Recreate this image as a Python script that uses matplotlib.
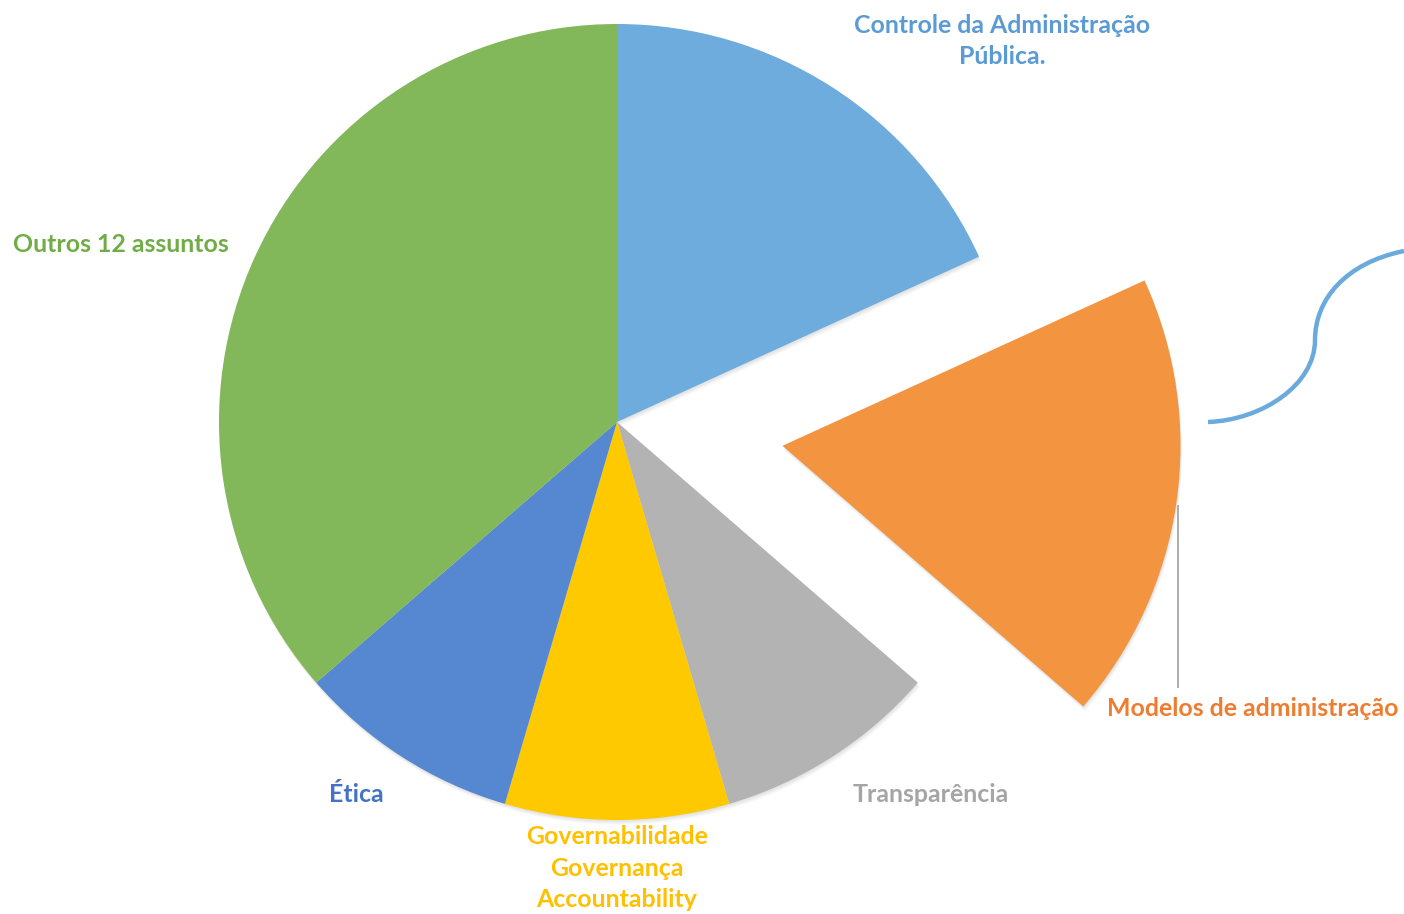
import matplotlib
matplotlib.use("Agg")
import matplotlib.pyplot as plt
from matplotlib.path import Path
from matplotlib.patches import PathPatch, Wedge

# Subjects and number of occurrences
categories = [
    "Controle da Administração\nPública.",
    "Modelos de administração",
    "Transparência",
    "Governabilidade\nGovernança\nAccountability",
    "Ética",
    "Outros 12 assuntos",
]
counts = [2, 2, 1, 1, 1, 4]
explode_frac = [0, 0.42, 0, 0, 0, 0]

slice_colors = ["#6DACDC", "#F29440", "#B3B3B3", "#FFC900", "#5588D0", "#82B85A"]
label_colors = ["#5B9BD5", "#ED7D31", "#A5A5A5", "#FFC000", "#4472C4", "#70AD47"]

W, H = 1404, 914
fig = plt.figure(figsize=(W / 100, H / 100), dpi=100)
ax = fig.add_axes([0, 0, 1, 1])


def py(y):
    # convert a top-down pixel row into the axes' bottom-up coordinate
    return H - y


cx, cy, r = 617, py(422), 398

wedges, _ = ax.pie(
    counts,
    explode=[e * r for e in explode_frac],
    colors=slice_colors,
    startangle=90,
    counterclock=False,
    radius=r,
    center=(cx, cy),
    frame=True,
    wedgeprops=dict(linewidth=0, zorder=3),
)
ax.set_xlim(0, W)
ax.set_ylim(0, H)
ax.set_aspect("equal")
ax.axis("off")

# soft drop shadow under every slice
for w in wedges:
    for k in range(1, 7):
        ax.add_patch(Wedge((w.center[0] + 0.3 * k, w.center[1] - 0.8 * k),
                           w.r, w.theta1, w.theta2, facecolor="black",
                           alpha=0.018, lw=0, zorder=2))

font = dict(family=["Lato", "DejaVu Sans"], fontweight="bold", fontsize=17.9)

label_pos = [
    (1002, 41),
    (1253, 709),
    (931, 794),
    (617, 868),
    (356, 794),
    (121, 244),
]
for text, color, (x, y) in zip(categories, label_colors, label_pos):
    ax.text(x, py(y), text, color=color, ha="center", va="center",
            linespacing=1.46, zorder=5, **font)

# leader line for the exploded slice label
ax.plot([1178, 1178], [py(505), py(688)], color="#A6A6A6", lw=1.3,
        solid_capstyle="butt", zorder=4)

# curved connector on the right edge
verts = [
    (1208, py(422)), (1262, py(420)), (1315, py(385)), (1315, py(340)),
    (1315, py(300)), (1345, py(263)), (1404, py(251)),
]
codes = [Path.MOVETO] + [Path.CURVE4] * 6
ax.add_patch(PathPatch(Path(verts, codes), facecolor="none",
                       edgecolor="#6AAADC", lw=3.2, zorder=4))

fig.savefig("out.png", dpi=100, facecolor="white")
